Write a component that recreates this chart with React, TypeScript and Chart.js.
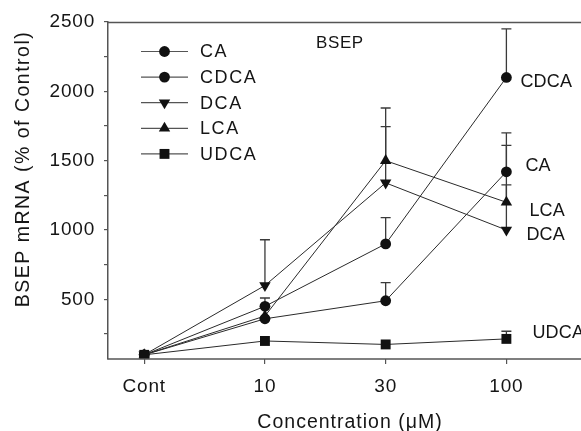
import React, { useEffect, useRef } from 'react';
import { Chart, registerables } from 'chart.js';

Chart.register(...registerables);

// ---------- data ----------
const categories = ['Cont', '10', '30', '100'];
const seriesNames = ['CA', 'CDCA', 'DCA', 'LCA', 'UDCA'];
const caValues = [100, 360, 490, 1420];
const cdcaValues = [100, 450, 900, 2100];
const dcaValues = [100, 600, 1340, 1000];
const lcaValues = [100, 380, 1500, 1200];
const udcaValues = [100, 200, 175, 215];
const caErrors = [0, 0, 130, 280];
const cdcaErrors = [0, 60, 190, 350];
const dcaErrors = [0, 330, 405, 325];
const lcaErrors = [0, 0, 380, 410];
const udcaErrors = [0, 0, 0, 55];
const yTickValues = [250, 500, 750, 1000, 1250, 1500, 1750, 2000, 2250, 2500];
const yTickLabels = ['', '500', '', '1000', '', '1500', '', '2000', '', '2500'];
const xTitle = 'Concentration (\u03BCM)';
const yTitle = 'BSEP mRNA (% of Control)';
const panelLabel = 'BSEP';

// ---------- styling ----------
const FONT = '"Liberation Sans", Arial, Helvetica, sans-serif';
const INK = '#151515';
const LINE = '#2a2a2a';
const AXIS = '#555555';

type Marker = { style: string; radius: number; rotation: number };
const markers: Marker[] = [
  { style: 'circle', radius: 5.4, rotation: 0 },
  { style: 'circle', radius: 5.4, rotation: 0 },
  { style: 'triangle', radius: 6.6, rotation: 180 },
  { style: 'triangle', radius: 6.6, rotation: 0 },
  { style: 'rect', radius: 7, rotation: 0 },
];
const seriesValues = [caValues, cdcaValues, dcaValues, lcaValues, udcaValues];
const seriesErrors = [caErrors, cdcaErrors, dcaErrors, lcaErrors, udcaErrors];
// end-label offsets (pixels from the last point)
const endLabelOffsets = [
  { dx: 19, dy: -6 },
  { dx: 14, dy: 5 },
  { dx: 20, dy: 5 },
  { dx: 23, dy: 9 },
  { dx: 26, dy: -6 },
];

function drawMarker(ctx: CanvasRenderingContext2D, m: Marker, x: number, y: number) {
  ctx.save();
  ctx.fillStyle = '#111';
  ctx.beginPath();
  if (m.style === 'circle') {
    ctx.arc(x, y, m.radius, 0, Math.PI * 2);
  } else if (m.style === 'rect') {
    const s = m.radius * Math.SQRT1_2;
    ctx.rect(x - s, y - s, 2 * s, 2 * s);
  } else {
    const r = m.radius;
    const sgn = m.rotation === 180 ? -1 : 1;
    ctx.moveTo(x, y - sgn * r);
    ctx.lineTo(x + r * 0.866, y + sgn * r * 0.5);
    ctx.lineTo(x - r * 0.866, y + sgn * r * 0.5);
    ctx.closePath();
  }
  ctx.fill();
  ctx.restore();
}

function text(
  ctx: CanvasRenderingContext2D,
  s: string,
  x: number,
  y: number,
  size: number,
  spacing: number,
  align: CanvasTextAlign = 'left',
  rotate = 0
) {
  ctx.save();
  ctx.font = `${size}px ${FONT}`;
  (ctx as any).letterSpacing = `${spacing}px`;
  ctx.fillStyle = INK;
  ctx.textAlign = align;
  ctx.textBaseline = 'middle';
  ctx.translate(x, y);
  if (rotate) ctx.rotate(rotate);
  ctx.fillText(s, 0, 0);
  ctx.restore();
}

const decorPlugin = {
  id: 'decor',
  beforeDraw(chart: any) {
    (chart.ctx as any).letterSpacing = '0.8px';
  },
  beforeDatasetsDraw(chart: any) {
    const ctx: CanvasRenderingContext2D = chart.ctx;
    const xs = chart.scales.x;
    const ys = chart.scales.y;
    ctx.save();
    ctx.strokeStyle = '#3a3a3a';
    ctx.lineWidth = 1.3;
    seriesValues.forEach((vals, si) => {
      vals.forEach((v, i) => {
        const e = seriesErrors[si][i];
        if (!e) return;
        const x = xs.getPixelForValue(i);
        const y0 = ys.getPixelForValue(v);
        const y1 = ys.getPixelForValue(v + e);
        ctx.beginPath();
        ctx.moveTo(x, y0);
        ctx.lineTo(x, y1);
        ctx.moveTo(x - 5, y1);
        ctx.lineTo(x + 5, y1);
        ctx.stroke();
      });
    });
    ctx.restore();
  },
  afterDraw(chart: any) {
    const ctx: CanvasRenderingContext2D = chart.ctx;
    const area = chart.chartArea;
    const xs = chart.scales.x;
    const ys = chart.scales.y;
    // top and bottom frame lines, running to the right edge
    ctx.save();
    ctx.strokeStyle = AXIS;
    ctx.lineWidth = 1.5;
    ctx.beginPath();
    ctx.moveTo(area.left, area.top + 0.5);
    ctx.lineTo(chart.width, area.top + 0.5);
    ctx.moveTo(area.left - 0.75, area.bottom);
    ctx.lineTo(chart.width, area.bottom);
    ctx.stroke();
    ctx.restore();

    // legend
    seriesNames.forEach((name, i) => {
      const y = 51.5 + i * 25.6;
      ctx.save();
      ctx.strokeStyle = '#555';
      ctx.lineWidth = 1.2;
      ctx.beginPath();
      ctx.moveTo(141, y);
      ctx.lineTo(188, y);
      ctx.stroke();
      ctx.restore();
      drawMarker(ctx, markers[i], 164.5, y);
      text(ctx, name, 200, y + 1, 18, 1.6);
    });

    // end labels
    seriesNames.forEach((name, i) => {
      const vals = seriesValues[i];
      const last = vals.length - 1;
      const px = xs.getPixelForValue(last) + endLabelOffsets[i].dx;
      const py = ys.getPixelForValue(vals[last]) + endLabelOffsets[i].dy;
      text(ctx, name, px, py, 18, 0.2);
    });

    // panel label
    text(ctx, panelLabel, 316, 43, 17, 0.6);

    // axis titles
    text(ctx, xTitle, 350, 423, 19.5, 1.0, 'center');
    text(ctx, yTitle, 24, 169, 19.5, 1.5, 'center', -Math.PI / 2);
  },
};

export default function App() {
  const ref = useRef<HTMLCanvasElement | null>(null);

  useEffect(() => {
    if (!ref.current) return;
    const datasets = seriesNames.map((name, i) => ({
      label: name,
      data: seriesValues[i].map((v, j) => ({ x: j, y: v })),
      borderColor: LINE,
      backgroundColor: '#111',
      borderWidth: 1,
      pointStyle: markers[i].style as any,
      pointRadius: markers[i].radius,
      pointRotation: markers[i].rotation,
      pointBorderWidth: 0,
      pointBackgroundColor: '#111',
      tension: 0,
      fill: false,
    }));

    const chart = new Chart(ref.current, {
      type: 'line',
      data: { datasets },
      plugins: [decorPlugin],
      options: {
        animation: false,
        responsive: false,
        events: [],
        layout: { padding: { left: 0, right: 0, top: 22, bottom: 0 } },
        plugins: { legend: { display: false }, tooltip: { enabled: false } },
        scales: {
          x: {
            type: 'linear',
            min: -0.3,
            max: 3.56,
            afterBuildTicks: (scale: any) => {
              scale.ticks = categories.map((_, i) => ({ value: i }));
            },
            afterFit: (scale: any) => {
              scale.height = 72;
            },
            ticks: {
              callback: (_v: any, i: number) => categories[i],
              font: { family: FONT, size: 19 },
              color: INK,
              padding: 11,
              maxRotation: 0,
              autoSkip: false,
            },
            grid: {
              drawOnChartArea: false,
              drawTicks: true,
              tickLength: 5,
              color: AXIS,
              lineWidth: 1.2,
            },
            border: { display: false },
          },
          y: {
            type: 'linear',
            min: 70,
            max: 2500,
            afterBuildTicks: (scale: any) => {
              scale.ticks = yTickValues.map((v) => ({ value: v }));
            },
            afterFit: (scale: any) => {
              scale.width = 108;
            },
            ticks: {
              callback: (_v: any, i: number) => yTickLabels[i],
              font: { family: FONT, size: 19 },
              color: INK,
              padding: 9,
              autoSkip: false,
            },
            grid: {
              drawOnChartArea: false,
              drawTicks: true,
              tickLength: 4,
              color: AXIS,
              lineWidth: 1.2,
            },
            border: { display: true, color: AXIS, width: 1.5 },
          },
        },
      },
    });
    return () => chart.destroy();
  }, []);

  return (
    <div style={{ position: 'fixed', left: 0, top: 0, width: 581, height: 431, background: '#fff' }}>
      <canvas ref={ref} width={581} height={431} style={{ display: 'block' }} />
    </div>
  );
}
